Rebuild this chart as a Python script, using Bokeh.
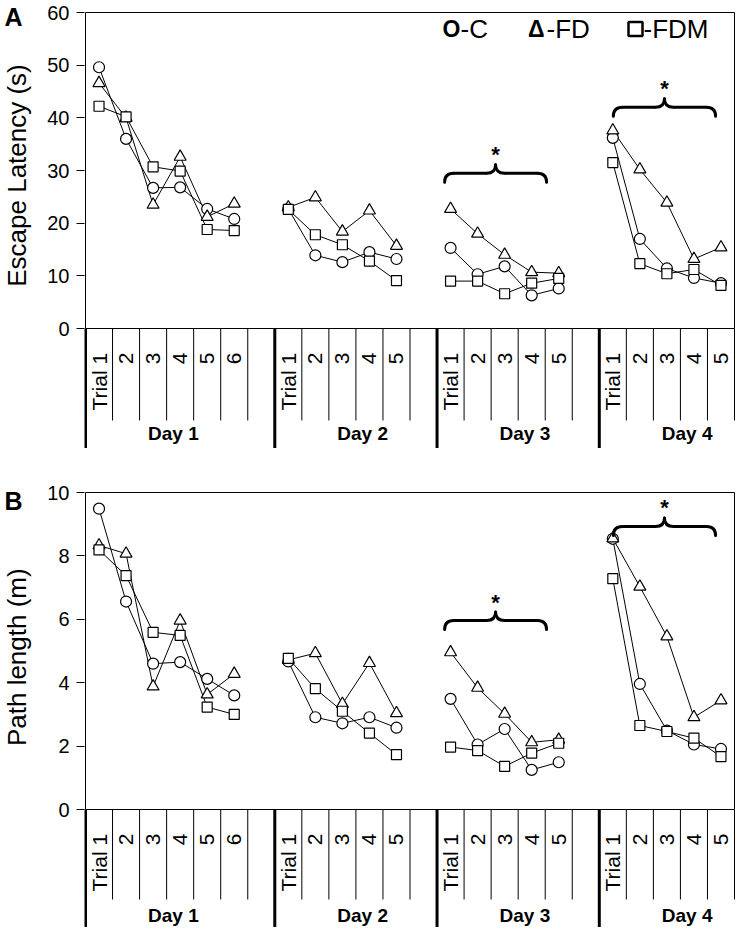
import math
from bokeh.plotting import figure
from bokeh.layouts import column, row
from bokeh.models import Range1d, FixedTicker, Label, BoxAnnotation
from bokeh.core.properties import value
from bokeh.embed import file_html
from bokeh.resources import INLINE

# ---------------- data ----------------
days = ["Day 1", "Day 2", "Day 3", "Day 4"]
trials_per_day = [6, 5, 5, 5]
trial_names = ["Trial 1", "2", "3", "4", "5", "6"]
groups = ["C", "FD", "FDM"]
group_markers = ["circle", "triangle", "square"]

lat_C = [49.6, 36.0, 26.7, 26.8, 22.7, 20.8,
         22.7, 13.9, 12.6, 14.5, 13.2,
         15.3, 10.3, 11.8, 6.3, 7.6,
         36.2, 17.0, 11.4, 9.6, 8.6]
lat_FD = [46.6, 40.0, 23.5, 32.6, 21.2, 23.7,
          23.0, 24.9, 18.4, 22.4, 15.7,
          22.7, 18.0, 14.0, 10.7, 10.5,
          37.6, 30.2, 23.9, 13.2, 15.4]
lat_FDM = [42.2, 40.2, 30.7, 29.9, 18.8, 18.6,
           22.6, 17.8, 15.9, 12.8, 9.1,
           9.0, 9.0, 6.6, 8.6, 9.5,
           31.5, 12.3, 10.4, 11.2, 8.2]

path_C = [9.49, 6.56, 4.60, 4.65, 4.12, 3.60,
          4.67, 2.91, 2.72, 2.91, 2.58,
          3.49, 2.05, 2.54, 1.25, 1.49,
          8.54, 3.96, 2.49, 2.05, 1.91]
path_FD = [8.33, 8.07, 3.88, 5.96, 3.63, 4.28,
           4.72, 4.93, 3.33, 4.62, 3.04,
           4.96, 3.84, 3.02, 2.12, 2.20,
           8.55, 7.03, 5.46, 2.91, 3.44]
path_FDM = [8.19, 7.38, 5.59, 5.49, 3.23, 3.00,
            4.77, 3.81, 3.10, 2.41, 1.73,
            1.97, 1.86, 1.36, 1.78, 2.09,
            7.28, 2.65, 2.46, 2.25, 1.67]

lat_ticks = [0, 10, 20, 30, 40, 50, 60]
path_ticks = [0, 2, 4, 6, 8, 10]

# significance brackets (Day 3 and Day 4)
sig_days = [2, 3]
brace_from = [0.28, 0.52]   # slots from the day's first slot
brace_to = [4.05, 4.30]
lat_brace_y = [29.5, 42.0]
path_brace_y = [5.96, 8.93]

# ---------------- layout ----------------
FONT = "Liberation Sans"
TOTAL_W = 738
LW = 34                 # left strip: panel letter + axis title
X0 = 85                 # page x of the first slot boundary
FW = 649                # width of the 24 slots
PAD_L, PAD_R = 1, 2
MW = TOTAL_W - LW
MBL = X0 - PAD_L - LW
MBR = TOTAL_W - (X0 + FW + PAD_R)

slot_start = []
s = 0
for i, n in enumerate(trials_per_day):
    slot_start.append(s)
    s += n + (1 if i < len(trials_per_day) - 1 else 0)
n_slots = s
slot_px = FW / n_slots

# advance widths (em) of Liberation Sans, used to centre rotated labels
EM = {"T": 0.611, "r": 0.333, "i": 0.222, "a": 0.556, "l": 0.222, " ": 0.278}
TRIAL_FS = 21


def text_w(t, fs):
    return sum(EM.get(c, 0.556) for c in t) * fs


def trial_x():
    xs = []
    for d, n in enumerate(trials_per_day):
        for i in range(n):
            xs.append(slot_start[d] + i + 0.5)
    return xs


def make_side(height, letter, letter_center, ylabel, ylabel_center):
    f = figure(width=LW, height=height, x_range=Range1d(0, LW), y_range=Range1d(height, 0),
               x_axis_location=None, y_axis_location=None, toolbar_location=None,
               output_backend="svg", title=None,
               min_border_left=0, min_border_right=0, min_border_top=0, min_border_bottom=0)
    f.outline_line_color = None
    f.xgrid.visible = False
    f.ygrid.visible = False
    f.text(x=[4], y=[letter_center], text=[letter], text_align="left", text_baseline="middle",
           text_font=value(FONT), text_font_size="25px", text_font_style="bold",
           text_color="black")
    f.text(x=[16.5], y=[ylabel_center], text=[ylabel], angle=math.pi / 2,
           text_align="center", text_baseline="middle", text_font=value(FONT),
           text_font_size="26px", text_color="black")
    return f


def make_panel(fig_h, ytop, y0, ymax, ticks, series, brace_y,
               label_top, sep_len, day_y, legend):
    ppy = (y0 - ytop) / ymax
    dx = lambda px: px / slot_px
    dy = lambda px: px / ppy
    p = figure(width=MW, height=fig_h,
               x_range=Range1d(-PAD_L / slot_px, n_slots + PAD_R / slot_px),
               y_range=Range1d(-(fig_h - y0) / ppy, ymax + ytop / ppy),
               x_axis_location=None, toolbar_location=None, output_backend="svg", title=None,
               min_border_left=MBL, min_border_right=MBR, min_border_top=0,
               min_border_bottom=0)
    p.outline_line_color = None
    p.xgrid.visible = False
    p.ygrid.visible = False
    ax = p.yaxis[0]
    ax.ticker = FixedTicker(ticks=ticks)
    ax.minor_tick_line_color = None
    ax.major_tick_out = 8
    ax.major_tick_in = 0
    ax.major_tick_line_color = "black"
    ax.axis_line_color = None
    ax.major_label_standoff = 7
    ax.major_label_text_font = FONT
    ax.major_label_text_font_size = "20px"
    ax.major_label_text_color = "black"

    # plot box
    p.segment(x0=[0, 0, n_slots, 0], y0=[0, ymax, 0, 0],
              x1=[n_slots, n_slots, n_slots, 0], y1=[0, ymax, ymax, ymax],
              line_color="black", line_width=1)

    # category strip below the axis
    bottom = -(fig_h - y0) / ppy
    thin = [b for b in range(1, n_slots + 1) if b not in slot_start]
    p.segment(x0=thin, y0=[0] * len(thin), x1=thin, y1=[-dy(sep_len)] * len(thin),
              line_color="black", line_width=1)
    p.segment(x0=slot_start, y0=[0] * len(slot_start), x1=slot_start,
              y1=[bottom] * len(slot_start), line_color="black", line_width=3)
    tx, ty, tt = [], [], []
    for d, n in enumerate(trials_per_day):
        for i in range(n):
            name = trial_names[i]
            tx.append(slot_start[d] + i + 0.5)
            ty.append(-dy(label_top + text_w(name, TRIAL_FS) / 2))
            tt.append(name)
    p.text(x=tx, y=ty, text=tt, angle=math.pi / 2, text_align="center",
           text_baseline="middle", text_font=value(FONT), text_font_size=f"{TRIAL_FS}px",
           text_color="black")
    dxs = [slot_start[d] + 3.25 for d in range(len(days))]
    p.text(x=dxs, y=[-dy(day_y)] * len(days), text=days, text_align="center",
           text_baseline="middle", text_font=value(FONT), text_font_size="19px",
           text_font_style="bold", text_color="black")

    # data
    xs = trial_x()
    for g in groups:
        ys = series[g]
        lx, ly = [], []
        k = 0
        for d, n in enumerate(trials_per_day):
            for i in range(n):
                lx.append(xs[k]); ly.append(ys[k]); k += 1
            lx.append(float("nan")); ly.append(float("nan"))
        p.line(lx, ly, line_color="black", line_width=1)
    sizes = {"circle": 11, "triangle": 12, "square": 10}
    for g, m in zip(groups, group_markers):
        p.scatter(xs, series[g], marker=m, size=sizes[m], fill_color="white",
                  line_color="black", line_width=1.2)

    # braces with asterisks
    for j, d in enumerate(sig_days):
        x0 = slot_start[d] + brace_from[j]
        x1 = slot_start[d] + brace_to[j]
        y = brace_y[j]
        xc = (x0 + x1) / 2
        r = dx(9)
        drop = dy(9)
        rise = dy(8.5)
        p.quadratic(x0=[x0, xc - r, xc, x1 - r], y0=[y - drop, y, y + rise, y],
                    x1=[x0 + r, xc, xc + r, x1], y1=[y, y + rise, y, y - drop],
                    cx=[x0, xc, xc, x1], cy=[y, y, y, y],
                    line_color="black", line_width=3, line_cap="round")
        p.segment(x0=[x0 + r, xc + r], y0=[y, y], x1=[xc - r, x1 - r], y1=[y, y],
                  line_color="black", line_width=3)
        p.text(x=[xc], y=[y + rise + dy(10)], text=["*"], text_align="center",
               text_baseline="middle", text_font=value(FONT), text_font_size="22px",
               text_font_style="bold", text_color="black")

    if legend:
        ly = ymax - dy(28.3 - ytop)
        px2x = lambda px: (px - X0) / slot_px
        p.add_layout(Label(x=px2x(442), y=ly, text="O", text_align="left",
                           text_baseline="middle", text_font=FONT, text_font_size="23px",
                           text_font_style="bold", text_color="black"))
        p.add_layout(Label(x=px2x(527.5), y=ly, text="\u0394", text_align="left",
                           text_baseline="middle", text_font=FONT, text_font_size="23px",
                           text_font_style="bold", text_color="black"))
        p.add_layout(BoxAnnotation(left=px2x(628), right=px2x(642),
                                   top=ymax - dy(21.5 - ytop), bottom=ymax - dy(35.5 - ytop),
                                   fill_alpha=0, line_color="black", line_width=2.5,
                                   line_alpha=1))
        for g, a in zip(groups, [460, 546, 643]):
            p.add_layout(Label(x=px2x(a), y=ly, text="-" + g, text_align="left",
                               text_baseline="middle", text_font=FONT, text_font_size="26px",
                               text_color="black"))
    return p


lat = {"C": lat_C, "FD": lat_FD, "FDM": lat_FDM}
pth = {"C": path_C, "FD": path_FD, "FDM": path_FDM}

HA, HB = 448, 479
pa = make_panel(HA, 12, 328, 60, lat_ticks, lat, lat_brace_y, 24, 92, 105, True)
la = make_side(HA, "A", 16, "Escape Latency (s)", 175)
pb = make_panel(HB, 44, 361, 10, path_ticks, pth, path_brace_y, 24, 90, 106, False)
lb = make_side(HB, "B", 52.5, "Path length (m)", 208.7)

layout = column(row(la, pa, spacing=0), row(lb, pb, spacing=0), spacing=0)
open("out.html", "w").write(file_html(layout, INLINE))
